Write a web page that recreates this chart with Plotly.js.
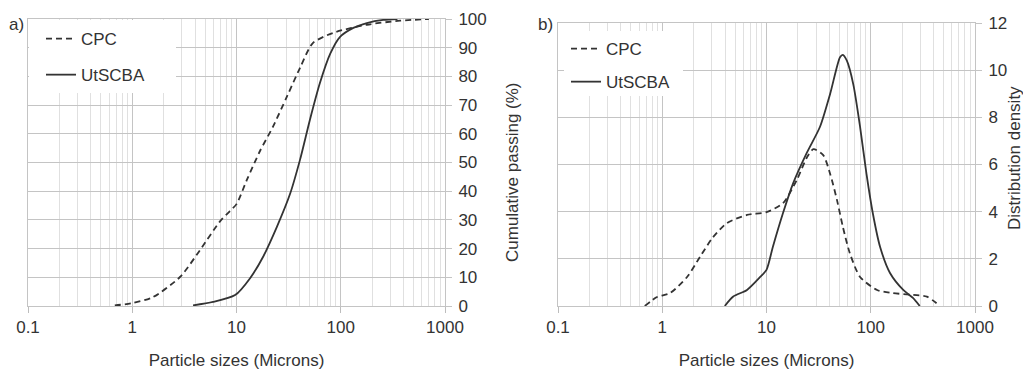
<!DOCTYPE html>
<html><head><meta charset="utf-8">
<script src="https://cdn.plot.ly/plotly-3.0.1.min.js"></script>
<style>html,body{margin:0;padding:0;background:#fff}#chart{width:1023px;height:370px}</style>
</head><body><div id="chart"></div><script>
// ---- data ----
var seriesNames = ['CPC', 'UtSCBA'];

// a) cumulative passing (%)
var cpcCumX = [0.68, 1, 1.58, 2.87, 4.47, 6.95, 8.6, 10, 12.6, 16.8, 22.4, 30.5, 40.7, 54, 85, 178, 371, 700];
var cpcCumY = [0.2, 1, 3.1, 10.1, 19.5, 29.5, 33, 35.5, 44, 54, 62.5, 73, 83, 91.6, 95.2, 98, 99.4, 100];
var utCumX = [3.83, 5.96, 9.7, 13.5, 17.9, 24.4, 32.6, 40.7, 50.7, 63, 79.5, 98, 132, 178, 256, 350];
var utCumY = [0.2, 1.4, 3.8, 9.7, 17, 27.6, 39, 51, 65, 77.6, 88, 93.7, 96.9, 98.6, 99.7, 100];

// b) distribution density
var cpcDenX = [0.68, 0.89, 1.19, 1.73, 2.3, 3.07, 4.18, 6.5, 10, 14.4, 19.5, 24.4, 28.2, 35, 40.8, 47.4, 54, 63, 79, 115, 162, 254, 345, 460];
var cpcDenY = [0, 0.38, 0.55, 1.23, 2.08, 2.92, 3.52, 3.86, 3.98, 4.36, 5.34, 6.3, 6.65, 6.4, 5.6, 4.5, 3.36, 2.24, 1.23, 0.68, 0.55, 0.47, 0.4, 0];
var utDenX = [3.98, 4.8, 6.5, 8.7, 10, 11.5, 14.4, 18, 24.4, 32.6, 40.8, 50.7, 54, 59, 68, 79, 91, 105, 123, 153, 205, 254, 295];
var utDenY = [0, 0.4, 0.68, 1.23, 1.53, 2.5, 3.94, 5.2, 6.5, 7.6, 9.0, 10.55, 10.65, 10.4, 9.4, 7.6, 5.6, 3.9, 2.5, 1.4, 0.68, 0.34, 0];

// axis ticks and titles
var xTickVals = [0.1, 1, 10, 100, 1000];
var xTickText = ['0.1', '1', '10', '100', '1000'];
var minorDigits = [2, 3, 4, 5, 6, 7, 8, 9];
var decades = [0.1, 1, 10, 100];
var xTitle = 'Particle sizes (Microns)';
var yTitleA = 'Cumulative passing (%)';
var yTitleB = 'Distribution density';

// ---- build ----
var minorVals = [];
decades.forEach(function (d) { minorDigits.forEach(function (m) { minorVals.push(d * m); }); });

var ink = '#333333';
var FONT = 'Liberation Sans, Arial, Helvetica, sans-serif';
var dashStyle = '6px,4px';

function tr(x, y, name, dash, xa, ya, leg) {
  return {
    x: x, y: y, name: name, type: 'scatter', mode: 'lines',
    line: {color: ink, width: 1.8, dash: dash, shape: 'spline', smoothing: 0.7},
    xaxis: xa, yaxis: ya, legend: leg, legendgroup: leg + name, hoverinfo: 'skip'
  };
}

var data = [
  tr(cpcCumX, cpcCumY, seriesNames[0], dashStyle, 'x', 'y', 'legend'),
  tr(utCumX, utCumY, seriesNames[1], 'solid', 'x', 'y', 'legend'),
  tr(cpcDenX, cpcDenY, seriesNames[0], dashStyle, 'x2', 'y2', 'legend2'),
  tr(utDenX, utDenY, seriesNames[1], 'solid', 'x2', 'y2', 'legend2')
];

function xAxis(domain, anchor) {
  return {
    type: 'log', range: [-1, 3], domain: domain, anchor: anchor,
    tickmode: 'array', tickvals: xTickVals, ticktext: xTickText,
    ticks: 'outside', ticklen: 6, tickcolor: '#bdbdbd', tickwidth: 1,
    showgrid: true, gridcolor: '#c4c4c4', gridwidth: 1,
    minor: {tickmode: 'array', tickvals: minorVals, showgrid: true, gridcolor: '#e0e0e0', gridwidth: 1, ticks: ''},
    showline: true, mirror: true, linecolor: '#c4c4c4', linewidth: 1,
    zeroline: false, automargin: false,
    tickfont: {family: FONT, size: 17, color: ink},
    title: {text: xTitle, font: {family: FONT, size: 17, color: ink}}
  };
}
function yAxis(domain, anchor, range, dtick) {
  return {
    side: 'right', domain: domain, anchor: anchor, range: range, dtick: dtick,
    ticks: 'outside', ticklen: 6, tickcolor: '#c4c4c4', tickwidth: 1,
    ticklabelstandoff: 3,
    showgrid: true, gridcolor: '#c4c4c4', gridwidth: 1,
    showline: true, mirror: true, linecolor: '#c4c4c4', linewidth: 1,
    zeroline: false, automargin: false,
    tickfont: {family: FONT, size: 17, color: ink}
  };
}

var W = 1023, H = 370;
function px(v) { return v / W; }
function py(v) { return 1 - v / H; }

var legendBase = {
  bgcolor: 'rgba(0,0,0,0)', borderwidth: 0,
  font: {family: FONT, size: 17, color: ink},
  xanchor: 'left', yanchor: 'top', itemwidth: 30
};

function note(text, x, y, angle) {
  return {text: text, xref: 'paper', yref: 'paper', x: px(x), y: py(y), showarrow: false,
    xanchor: 'center', yanchor: 'middle', textangle: angle || 0,
    font: {family: FONT, size: 17, color: ink}};
}

var layout = {
  width: W, height: H,
  margin: {l: 0, r: 0, t: 0, b: 0, pad: 0},
  paper_bgcolor: '#ffffff', plot_bgcolor: '#ffffff',
  font: {family: FONT, size: 17, color: ink},
  showlegend: true,
  xaxis: xAxis([px(28), px(445)], 'y'),
  yaxis: yAxis([py(306), py(19)], 'x', [0, 100], 10),
  xaxis2: xAxis([px(558), px(975)], 'y2'),
  yaxis2: yAxis([py(306), py(23)], 'x2', [0, 12], 2),
  legend: Object.assign({}, legendBase, {x: px(41), y: py(21), tracegroupgap: 11}),
  legend2: Object.assign({}, legendBase, {x: px(566), y: py(31), tracegroupgap: 8}),
  shapes: [
    {type: 'rect', xref: 'paper', yref: 'paper', x0: px(29), x1: px(176), y0: py(93), y1: py(20),
     fillcolor: '#ffffff', line: {width: 0}, layer: 'above'},
    {type: 'rect', xref: 'paper', yref: 'paper', x0: px(564), x1: px(683), y0: py(96), y1: py(31),
     fillcolor: '#ffffff', line: {width: 0}, layer: 'above'}
  ],
  annotations: [
    note('a)', 16, 24),
    note('b)', 545, 25),
    note(yTitleA, 512, 172, -90),
    note(yTitleB, 1014, 158, -90)
  ]
};

Plotly.newPlot('chart', data, layout, {displayModeBar: false, staticPlot: true});
</script></body></html>
